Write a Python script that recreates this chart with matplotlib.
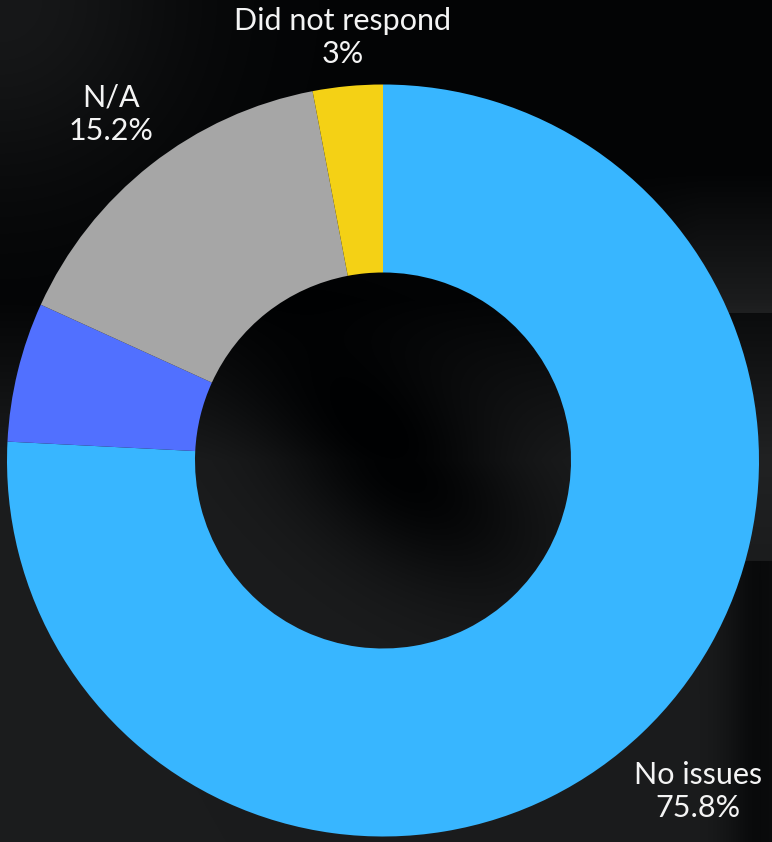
import numpy as np
import matplotlib.pyplot as plt

W, H = 772, 842

# Survey response shares (percent), drawn clockwise from 12 o'clock
categories = ["No issues", "Had issues", "N/A", "Did not respond"]
shares = [75.8, 6.0, 15.2, 3.0]
show_label = [True, False, True, True]
colors = ["#38b6ff", "#5170ff", "#a6a6a6", "#f4d115"]

# how far out each label sits, as a multiple of the outer radius
label_dist = [1.215, 1.17, 1.17, 1.13]

CX, CY = 383, H - 460.5
R_OUT = 376
R_IN = 188

plt.rcParams['font.family'] = ['Lato', 'DejaVu Sans']

fig = plt.figure(figsize=(W / 100, H / 100), dpi=100)
ax = fig.add_axes([0, 0, 1, 1])

# dark backdrop: black up top, charcoal lower down, a few soft patches
# (row 0 of the array is the top edge of the figure)
yy, xx = np.mgrid[0:H, 0:W].astype(float)
bg = 3 + 24 * np.clip((yy - 300) / 160, 0, 1)
bg += 20 * np.exp(-(xx ** 2 + yy ** 2) / (2 * 130 ** 2))
band = np.clip((yy - 170) / 140, 0, 1) * (yy < 313) * np.clip((xx - 560) / 140, 0, 1)
bg += 26 * band
bg += 6 * (yy >= 313) * np.clip((xx - 640) / 100, 0, 1) * np.clip((560 - yy) / 100, 0, 1)
# darker streak through the middle of the hole
u = (xx - 400) * 0.8 + (yy - 470) * 0.6
v = -(xx - 400) * 0.6 + (yy - 470) * 0.8
bg -= 26 * np.exp(-(u ** 2) / (2 * 110 ** 2) - (v ** 2) / (2 * 60 ** 2))
bg -= 18 * np.exp(-((xx - 760) ** 2) / (2 * 25 ** 2)) * (yy > 560)
bg = np.clip(bg, 0, 255)
img = np.dstack([bg, bg + 1, bg + 2]) / 255
ax.imshow(np.clip(img, 0, 1), extent=[0, W, 0, H], origin='upper',
          zorder=0, aspect='auto')

wedges, _ = ax.pie(shares, colors=colors, startangle=90, counterclock=False,
                   radius=R_OUT, center=(CX, CY), frame=True,
                   wedgeprops=dict(width=R_OUT - R_IN, linewidth=0))
ax.set_xlim(0, W)
ax.set_ylim(0, H)
ax.axis('off')

for w, name, val, shown, d in zip(wedges, categories, shares, show_label, label_dist):
    if not shown:
        continue
    mid = np.deg2rad((w.theta1 + w.theta2) / 2)
    x = CX + d * R_OUT * np.cos(mid)
    y = CY + d * R_OUT * np.sin(mid)
    ax.text(x, y, f"{name}\n{val:g}%", ha='center', va='center',
            color='#f4f4f4', fontsize=22, linespacing=1.25, zorder=5)

fig.savefig('out.png', dpi=100, facecolor='black')
